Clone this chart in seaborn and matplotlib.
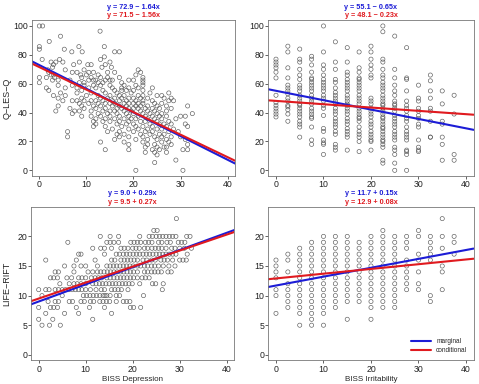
import seaborn as sns
import numpy as np
import pandas as pd
from matplotlib import pyplot as plt

sns.set_theme(style="white")
plt.rcParams['font.family'] = ['Liberation Sans', 'DejaVu Sans']

blue = '#1c1cd6'
red = '#e01a1f'

# Q-LES-Q (y level) -> BISS Depression values
qles_dep_rows = {
    100.0: [0, 0.7], 96.4: [12.9], 92.9: [4.5], 89.3: [2.1],
    85.7: [0, 13.8, 8.4], 83.9: [0, 5.3], 82.1: [6.9, 9.1, 16.0, 17.0],
    78.6: [13.8], 76.8: [0.6, 4.3, 13.0], 75.0: [2.5, 3.5, 5.0, 8.5, 15.0],
    73.2: [3.0, 7.3, 10.3, 11.0, 14.0], 71.4: [2.8, 13.3, 15.3],
    69.6: [1.8, 5.5, 9.5, 21.0],
    67.9: [2.0, 7.0, 8.0, 10.5, 11.5, 14.5, 16.0, 21.5],
    66.1: [2.5, 3.0, 8.8, 10.0, 12.5, 20.5],
    64.3: [0, 1.5, 3.2, 9.0, 11.0, 13.0, 14.5, 17.0, 22.0],
    62.5: [2.8, 4.0, 6.5, 10.5, 11.5, 12.0, 14.0, 15.0, 15.5, 19.0, 20.0, 22.0],
    60.7: [0, 8.5, 9.5, 12.5, 13.5, 17.5, 22.0],
    58.9: [4.0, 7.0, 9.5, 11.5, 13.0, 15.0, 18.0, 20.5, 22.0],
    57.1: [1.5, 5.5, 8.0, 10.5, 12.0, 15.5, 17.5, 19.0, 21.0, 24.0],
    55.4: [2.0, 9.0, 13.5, 16.0, 17.5, 18.5, 20.0, 22.0],
    53.6: [4.5, 8.0, 11.0, 14.0, 16.5, 19.5, 23.5, 27.5],
    51.8: [3.0, 5.5, 10.0, 12.5, 15.0, 17.0, 18.0, 21.0, 22.0, 25.0, 26.0],
    50.0: [4.0, 9.0, 13.0, 14.5, 16.0, 17.5, 19.0, 20.0, 21.5, 23.0, 26.5, 28.0],
    48.2: [5.0, 7.0, 8.0, 9.5, 11.0, 12.0, 13.5, 15.5, 17.0, 18.5, 20.5, 22.0, 24.0, 27.5, 28.5],
    46.4: [8.5, 10.5, 12.5, 14.0, 15.0, 16.0, 18.0, 19.0, 20.0, 21.0, 22.0, 24.5, 26.0],
    44.6: [4.0, 9.0, 11.5, 13.0, 15.5, 17.0, 18.5, 20.5, 21.5, 23.0, 25.0, 27.0, 31.5],
    42.9: [6.5, 9.5, 12.0, 14.0, 16.5, 17.5, 19.0, 20.0, 21.0, 22.5, 24.0, 25.5, 28.0],
    41.1: [3.5, 7.5, 8.5, 11.0, 13.5, 15.0, 16.0, 18.0, 19.5, 21.5, 23.0, 24.5, 27.0],
    39.3: [7.0, 12.5, 14.5, 16.5, 18.5, 20.0, 22.0, 23.5, 25.0, 26.0, 32.5],
    37.5: [9.0, 11.0, 13.0, 15.0, 17.0, 19.0, 21.0, 22.5, 24.0, 25.5, 27.0, 30.0, 31.0],
    35.7: [12.0, 14.0, 16.0, 18.0, 19.5, 20.5, 23.0, 24.5, 26.0, 29.0],
    33.9: [11.5, 13.5, 15.0, 17.0, 19.0, 21.5, 22.5, 25.0, 27.5],
    32.1: [12.0, 16.5, 18.5, 20.0, 23.5, 25.5, 26.5, 28.0, 31.0],
    30.4: [11.5, 14.0, 17.5, 20.5, 22.0, 24.0, 27.0, 31.5],
    28.6: [15.5, 19.0, 21.0, 23.0, 25.0, 26.0, 28.5],
    26.8: [6.0, 14.5, 17.0, 20.0, 22.5, 24.0, 27.5, 29.5],
    25.0: [16.5, 18.0, 21.5, 23.5, 25.5, 26.5],
    23.2: [6.0, 17.0, 19.0, 22.0, 24.5, 26.0, 28.0, 30.0],
    21.4: [16.0, 20.5, 23.0, 25.0, 27.0, 31.0],
    19.6: [13.0, 18.0, 22.0, 26.0, 27.5],
    17.9: [19.0, 23.0, 24.5, 28.0, 31.5],
    16.1: [22.5, 25.0, 26.5, 27.0],
    14.3: [14.0, 19.0, 24.0, 25.5, 30.5, 31.5],
    12.5: [22.5, 24.5, 27.0], 10.7: [25.0], 7.1: [29.0], 5.4: [24.5],
    0.0: [20.5, 30.5],
}

# BISS Irritability (x level) -> Q-LES-Q values
qles_irr_cols = {
    0.0: [77, 75, 73, 71, 68, 64, 52, 47, 45, 43, 41, 39, 37],
    2.5: [86, 82, 71, 64, 59, 57, 55, 53, 50, 48, 45, 44, 42, 39, 34],
    5.0: [84, 77, 75, 70, 66, 63, 59, 57, 55, 52, 50, 48, 46, 45, 43, 41, 39, 37, 34, 32, 30, 23],
    7.5: [79, 77, 73, 68, 64, 63, 61, 59, 57, 55, 52, 50, 48, 46, 43, 41, 39, 37, 36, 30, 21, 18],
    10.0: [100, 82, 73, 70, 66, 63, 61, 59, 57, 55, 52, 50, 48, 45, 43, 38, 29, 27, 21, 19, 18, 11],
    12.5: [89, 75, 70, 63, 61, 57, 54, 52, 50, 48, 46, 43, 41, 39, 36, 34, 32, 30, 27, 25, 18, 16, 14],
    15.0: [85, 75, 68, 66, 63, 61, 59, 57, 55, 52, 50, 48, 46, 45, 43, 41, 39, 36, 34, 32, 29, 27, 25, 23, 14],
    17.5: [82, 71, 68, 64, 63, 61, 59, 57, 55, 52, 50, 48, 46, 43, 41, 39, 37, 36, 34, 30, 27, 25, 23, 20, 13],
    20.0: [86, 82, 77, 73, 70, 66, 64, 50, 48, 46, 43, 41, 39, 37, 34, 32, 30, 27, 25, 23, 21, 20, 14],
    22.5: [100, 96, 77, 75, 70, 66, 64, 61, 59, 57, 55, 52, 50, 48, 46, 45, 43, 41, 39, 37, 36, 34,
           32, 30, 29, 27, 25, 23, 21, 20, 18, 16, 7, 5],
    25.0: [93, 70, 64, 59, 55, 52, 48, 46, 45, 43, 41, 38, 36, 34, 32, 30, 27, 25, 23, 21, 16, 14, 11, 5, 0],
    27.5: [85, 64, 63, 55, 48, 45, 43, 41, 38, 36, 34, 30, 27, 25, 23, 21, 14, 13, 11, 0],
    30.0: [59, 50, 48, 43, 41, 38, 36, 32, 30, 21, 16, 14, 13],
    32.5: [66, 62, 55, 50, 43, 41, 34, 23, 23],
    35.0: [55, 46, 34, 32, 23, 18, 7],
    37.5: [52, 39, 11, 7],
}

# LIFE-RIFT (y level) -> BISS Depression values
rift_dep_rows = {
    23: [29.3],
    21: [24.5, 25.2],
    20: [13.1, 15.2, 17.0, 21.5, 23.5, 24.2, 25.0, 25.7, 26.4, 27.1, 27.8, 28.5, 29.2, 31.5, 32.2],
    19: [6.2, 14.5, 15.2, 16.0, 17.0, 19.6, 20.3, 21.0, 21.7, 22.7, 23.4, 24.1, 25.5, 26.2, 27.3, 28.0,
         29.7, 30.4, 31.1],
    18: [11.5, 13.2, 14.0, 15.5, 17.5, 18.2, 19.0, 20.0, 20.7, 21.4, 22.5, 23.2, 24.1, 24.8, 25.5, 26.2,
         27.1, 28.3, 29.0, 30.0, 31.0, 32.5],
    17: [8.5, 9.0, 14.0, 16.5, 17.2, 18.0, 18.7, 19.4, 20.1, 20.8, 21.5, 22.2, 22.9, 23.6, 24.3, 25.0,
         25.7, 26.4, 27.1, 27.8, 28.5, 29.2, 31.6],
    16: [1.5, 8.0, 12.0, 15.5, 16.2, 17.5, 18.2, 18.9, 19.6, 20.3, 21.0, 22.2, 23.0, 24.0, 24.8, 26.0,
         26.7, 27.4, 28.5, 30.0, 30.7, 31.4],
    15: [5.5, 7.5, 9.0, 10.0, 12.5, 14.5, 15.2, 15.9, 16.6, 17.3, 18.0, 18.7, 19.4, 20.1, 21.0, 21.7,
         22.5, 23.2, 24.0, 24.7, 25.5, 26.5, 27.7, 29.0],
    14: [3.5, 4.2, 7.5, 10.5, 11.5, 12.5, 13.2, 13.9, 14.6, 15.3, 16.0, 16.7, 17.4, 18.1, 18.8, 19.5,
         20.2, 21.0, 22.5, 23.2, 24.0, 24.7, 25.4, 26.1, 27.5, 28.2],
    13: [2.5, 3.2, 4.0, 6.0, 7.0, 8.5, 9.2, 10.0, 11.2, 12.0, 12.7, 13.4, 14.5, 15.2, 16.0, 16.7, 17.4,
         18.1, 18.8, 19.5, 20.2, 21.0, 22.0, 22.7, 23.5],
    12: [4.5, 6.5, 7.5, 8.2, 9.0, 10.0, 11.5, 12.2, 12.9, 13.6, 14.3, 15.0, 15.7, 16.4, 17.1, 17.8,
         18.5, 19.2, 19.9, 21.5, 24.2, 24.9, 26.5],
    11: [0.0, 1.5, 2.2, 3.5, 4.2, 5.0, 5.7, 6.4, 7.1, 7.8, 8.5, 9.2, 10.0, 11.0, 12.2, 13.3, 14.0, 15.5,
         16.2, 16.9, 17.6, 19.0, 26.3],
    10: [0.7, 5.0, 9.5, 10.2, 10.9, 11.6, 12.3, 13.0, 13.7, 14.1, 14.5, 15.2, 16.5, 17.2, 22.3],
    9: [2.0, 3.5, 4.2, 6.5, 7.2, 9.0, 9.7, 11.0, 11.7, 13.0, 13.7, 14.4, 15.1, 16.5, 18.0, 18.7, 19.4],
    8: [0.0, 2.5, 3.2, 4.0, 8.0, 10.8, 14.0, 19.5, 20.2, 21.7],
    7: [1.5, 5.5, 8.5, 15.5],
    6: [0.0, 3.0, 11.5],
    5: [0.7, 2.3, 4.6],
}

# BISS Irritability (x level) -> LIFE-RIFT values
rift_irr_cols = {
    0.0: [16, 15, 14, 13, 11, 10, 7],
    2.5: [17, 16, 14, 12, 11, 10, 9, 8],
    5.0: [18, 17, 16, 15, 14, 13, 12, 11, 10, 9, 8, 7, 5],
    7.5: [19, 18, 17, 16, 15, 14, 13, 12, 11, 10, 9, 8, 7, 6, 5],
    10.0: [20, 19, 18, 17, 16, 15, 14, 13, 12, 11, 10, 9, 8, 7, 5],
    12.5: [20, 19, 18, 17, 16, 15, 14, 13, 12, 11, 10, 9, 8],
    15.0: [20, 19, 18, 17, 16, 15, 14, 13, 12, 11, 10, 9, 6],
    17.5: [19, 18, 17, 16, 15, 14, 13, 12, 11, 10, 9],
    20.0: [20, 19, 18, 17, 16, 15, 14, 13, 12, 11, 10, 9, 8, 6],
    22.5: [21, 20, 19, 18, 17, 16, 15, 14, 13, 12, 11, 10, 9, 8],
    25.0: [20, 19, 18, 17, 16, 15, 14, 13, 12, 11, 10, 9, 8],
    27.5: [20, 19, 18, 16, 15, 14, 13, 12, 11],
    30.0: [21, 20, 17, 16, 14, 12, 11],
    32.5: [20, 19, 18, 17, 16, 10, 9],
    35.0: [23, 20, 18, 15, 14, 11],
    37.5: [20, 19, 17],
}

# (intercept, slope): marginal, conditional
coefs_qles_dep = [(72.9, -1.64), (71.5, -1.56)]
coefs_qles_irr = [(55.1, -0.65), (48.1, -0.23)]
coefs_rift_dep = [(9.0, 0.29), (9.5, 0.27)]
coefs_rift_irr = [(11.7, 0.15), (12.9, 0.08)]


def to_df(levels, key_is_y):
    pairs = [(v, k) if key_is_y else (k, v) for k, vals in levels.items() for v in vals]
    return pd.DataFrame(pairs, columns=['x', 'y'])


def eq_text(a, b):
    sign = '+' if b >= 0 else '\u2212'
    return f"y = {a:.1f} {sign} {abs(b):.2f}x"


def panel(ax, df, coefs, ylim, yticks, ylabel=None, xlabel=None, legend=False):
    sns.scatterplot(data=df, x='x', y='y', ax=ax, marker='o', s=9,
                    facecolor='none', edgecolor='#5a5a5a', linewidth=0.45)
    for (a, b), c, lab in zip(coefs, [blue, red], ['marginal', 'conditional']):
        ax.axline((0, a), slope=b, color=c, lw=1.5, label=lab)
    ax.set_xlim(-1.6, 41.6)
    ax.set_ylim(*ylim)
    ax.set_xticks([0, 10, 20, 30, 40])
    ax.set_yticks(yticks)
    ax.tick_params(labelsize=6.3, length=2.0, width=0.5, pad=1.0,
                   bottom=True, left=True, colors='#222222')
    for sp in ax.spines.values():
        sp.set_visible(True)
        sp.set_color('#777777')
        sp.set_linewidth(0.6)
    ax.set_xlabel(xlabel if xlabel else '', fontsize=5.8)
    ax.set_ylabel(ylabel if ylabel else '', fontsize=6.5)
    ax.yaxis.set_label_coords(-0.1, 0.5)
    ax.xaxis.set_label_coords(0.5, -0.1)
    ax.annotate(eq_text(*coefs[0]), xy=(0.5, 1), xycoords='axes fraction',
                xytext=(0, 9.5), textcoords='offset points', ha='center', va='center',
                fontsize=5.2, fontweight='bold', color=blue)
    ax.annotate(eq_text(*coefs[1]), xy=(0.5, 1), xycoords='axes fraction',
                xytext=(0, 3.3), textcoords='offset points', ha='center', va='center',
                fontsize=5.2, fontweight='bold', color=red)
    if legend:
        ax.legend(loc='lower right', frameon=False, fontsize=4.7, handlelength=3.1,
                  borderaxespad=0.6, labelspacing=0.3)


fig = plt.figure(figsize=(4.79, 3.84), dpi=100)
ax_tl = fig.add_axes([0.0664, 0.5414, 0.4246, 0.406])
ax_tr = fig.add_axes([0.5603, 0.5414, 0.4284, 0.406])
ax_bl = fig.add_axes([0.0651, 0.0612, 0.4238, 0.3997])
ax_br = fig.add_axes([0.5603, 0.0612, 0.4284, 0.3997])

panel(ax_tl, to_df(qles_dep_rows, True), coefs_qles_dep, (-4, 104), [0, 20, 40, 60, 80, 100],
      ylabel='Q\u2212LES\u2212Q')
panel(ax_tr, to_df(qles_irr_cols, False), coefs_qles_irr, (-4, 104), [0, 20, 40, 60, 80, 100])
panel(ax_bl, to_df(rift_dep_rows, True), coefs_rift_dep, (-0.96, 24.96), [0, 5, 10, 15, 20],
      ylabel='LIFE\u2212RIFT', xlabel='BISS Depression')
panel(ax_br, to_df(rift_irr_cols, False), coefs_rift_irr, (-0.96, 24.96), [0, 5, 10, 15, 20],
      xlabel='BISS Irritability', legend=True)

fig.savefig('out.png', dpi=100)
